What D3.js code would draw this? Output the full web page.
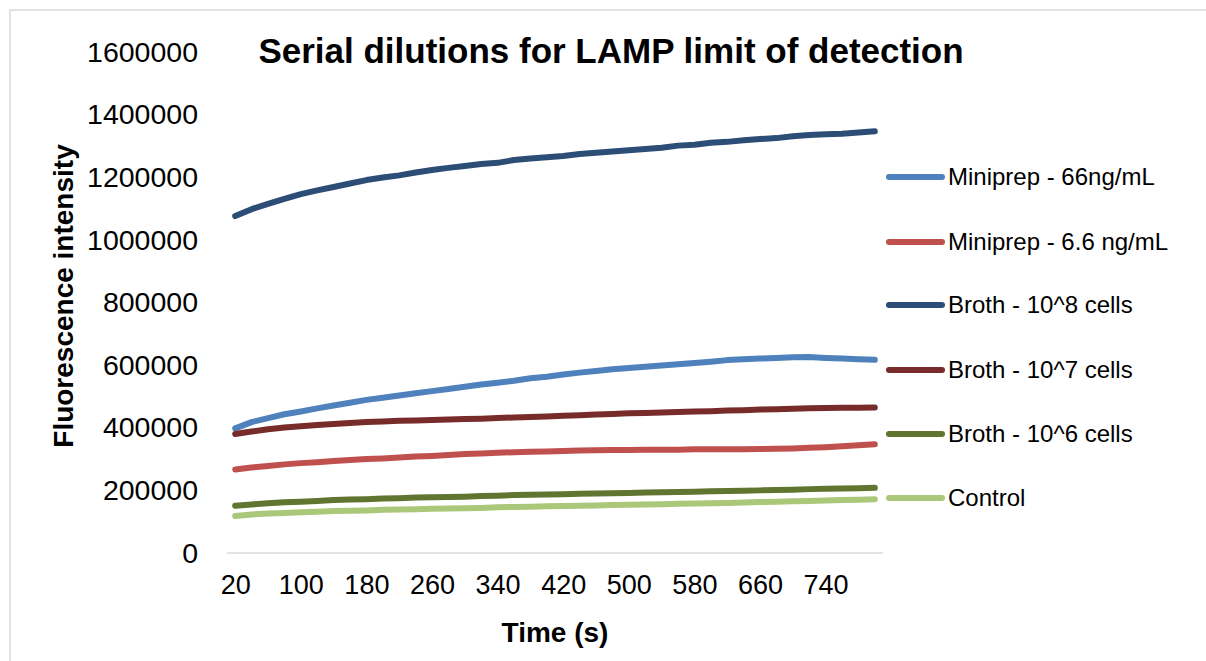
<!DOCTYPE html>
<html>
<head>
<meta charset="utf-8">
<script src="https://cdn.jsdelivr.net/npm/d3@7"></script>
<style>
body{margin:0;background:#fff;}
svg{font-family:Arial,"Liberation Sans",sans-serif;}
.line{fill:none;stroke-width:6;stroke-linecap:round;stroke-linejoin:round;}
</style>
</head>
<body>
<script>
var times=d3.range(20,801,20);
var xlabels=[20,100,180,260,340,420,500,580,660,740];
var ylabels=[0,200000,400000,600000,800000,1000000,1200000,1400000,1600000];

var names=["Miniprep - 66ng/mL","Miniprep - 6.6 ng/mL","Broth - 10^8 cells","Broth - 10^7 cells","Broth - 10^6 cells","Control"];
var colors=["#4f81bd","#c0504d","#2c4d75","#772c2a","#5f7530","#abc779"];

var mini66=[398000,418000,431000,443000,452000,462000,471000,480000,489000,496000,503000,510000,517000,524000,531000,538000,544000,550000,558000,563000,570000,576000,581000,587000,591000,595000,599000,603000,607000,611000,616000,619000,621000,623000,625000,626000,623000,621000,619000,617000];
var mini66b=[267000,273000,278000,283000,287000,290000,294000,297000,300000,302000,305000,308000,310000,313000,316000,318000,320000,322000,323000,324000,326000,327000,328000,329000,329000,330000,330000,330000,331000,331000,331000,331000,332000,333000,334000,336000,338000,341000,344000,347000];
var broth8=[1076000,1098000,1115000,1131000,1146000,1158000,1169000,1180000,1191000,1199000,1206000,1215000,1223000,1230000,1236000,1242000,1246000,1255000,1260000,1264000,1268000,1274000,1278000,1282000,1286000,1290000,1294000,1301000,1304000,1310000,1313000,1318000,1322000,1325000,1331000,1335000,1337000,1339000,1343000,1347000];
var broth7=[380000,388000,395000,401000,405000,409000,412000,415000,418000,420000,422000,423000,425000,426000,428000,429000,431000,433000,434000,436000,438000,440000,442000,444000,446000,447000,449000,450000,452000,453000,455000,456000,458000,459000,461000,462000,463000,464000,464000,465000];
var broth6=[151000,155000,159000,162000,164000,166000,169000,171000,172000,174000,175000,177000,178000,179000,180000,182000,183000,185000,186000,187000,188000,189000,190000,191000,192000,193000,194000,195000,196000,197000,198000,199000,200000,201000,202000,204000,205000,206000,207000,208000];
var control=[118000,123000,126000,128000,130000,132000,134000,135000,136000,138000,139000,140000,141000,142000,143000,144000,146000,147000,148000,149000,150000,151000,152000,153000,154000,155000,156000,157000,158000,159000,160000,161000,163000,164000,165000,166000,168000,169000,170000,172000];

var series=[mini66,mini66b,broth8,broth7,broth6,control];

var svg=d3.select("body").append("svg").attr("width",1206).attr("height",661);

// chart border (runs off the right and bottom edge)
svg.append("rect").attr("x",10).attr("y",10).attr("width",1220).attr("height",680)
	.attr("fill","#fff").attr("stroke","#d9d9d9").attr("stroke-width",1.5);

var xscale=d3.scalePoint().domain(times).range([227,883]).padding(0.5);
var yscale=d3.scaleLinear().domain([0,1600000]).range([553,52]);

var xaxis=svg.append("g").attr("transform","translate(0,553)")
	.call(d3.axisBottom(xscale).tickValues(xlabels).tickSize(0).tickPadding(22));
xaxis.select(".domain").remove();
xaxis.selectAll("text").attr("font-size",27).attr("fill","#000").attr("font-family","Arial,'Liberation Sans',sans-serif");
svg.append("line").attr("x1",227).attr("x2",883).attr("y1",553).attr("y2",553)
	.attr("stroke","#d9d9d9").attr("stroke-width",1.5);

var yaxis=svg.append("g").attr("transform","translate(227,0)")
	.call(d3.axisLeft(yscale).tickValues(ylabels).tickSize(0).tickPadding(29).tickFormat(d3.format("d")));
yaxis.select(".domain").remove();
yaxis.selectAll("text").attr("font-size",28.5).attr("fill","#000").attr("font-family","Arial,'Liberation Sans',sans-serif");

var line=d3.line().x(function(d,i){return xscale(times[i]);}).y(function(d){return yscale(d);});
series.forEach(function(s,k){
	svg.append("path").attr("class","line").style("stroke",colors[k]).datum(s).attr("d",line);
});

svg.append("text").attr("x",611).attr("y",63).attr("text-anchor","middle")
	.attr("font-size",35).attr("font-weight","bold").text("Serial dilutions for LAMP limit of detection");
svg.append("text").attr("x",555).attr("y",642).attr("text-anchor","middle")
	.attr("font-size",28).attr("font-weight","bold").text("Time (s)");
svg.append("text").attr("transform","translate(73,296) rotate(-90)").attr("text-anchor","middle")
	.attr("font-size",28).attr("font-weight","bold").text("Fluorescence intensity");

var legy=[177,242,305,370,434,498];
var leg=svg.append("g");
names.forEach(function(n,k){
	leg.append("line").attr("x1",889).attr("x2",942).attr("y1",legy[k]).attr("y2",legy[k])
		.attr("stroke",colors[k]).attr("stroke-width",6).attr("stroke-linecap","round");
	leg.append("text").attr("x",948).attr("y",legy[k]).attr("dy","0.35em").attr("font-size",24).text(n);
});
</script>
</body>
</html>
